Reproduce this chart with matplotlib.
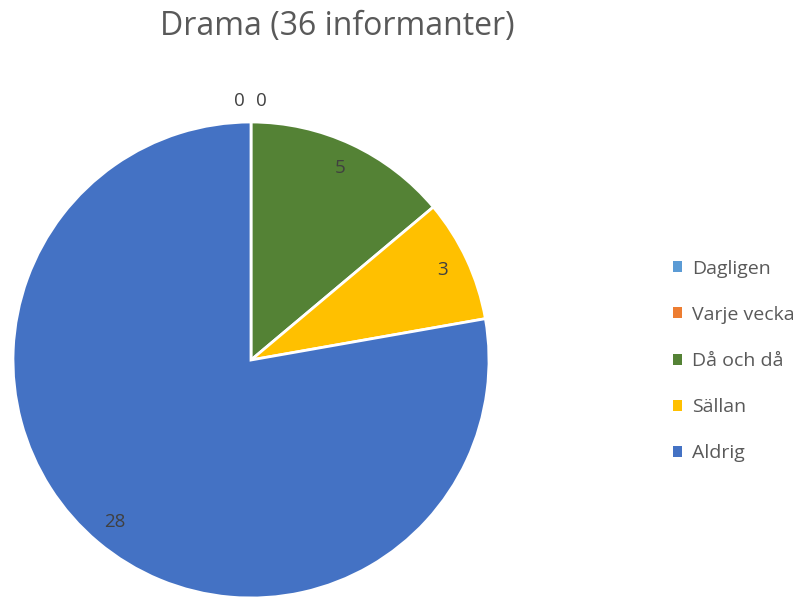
import numpy as np
import matplotlib.pyplot as plt
from matplotlib.patches import Patch

title = "Drama (36 informanter)"
categories = ["Dagligen", "Varje vecka", "Då och då", "Sällan", "Aldrig"]
values = [0, 0, 5, 3, 28]
colors = ["#5B9BD5", "#ED7D31", "#548235", "#FFC000", "#4472C4"]

plt.rcParams['font.family'] = ['Open Sans', 'DejaVu Sans']
text_col = "#595959"

fig = plt.figure(figsize=(8.06, 5.99), dpi=100)
ax = fig.add_axes([13 / 806, 1 / 599, 476 / 806, 476 / 599])
wedges, _ = ax.pie(values, colors=colors, startangle=90, counterclock=False,
                   wedgeprops=dict(edgecolor="white", linewidth=2))
ax.set_xlim(-1, 1)
ax.set_ylim(-1, 1)
ax.set_aspect("equal")

# data labels
zero_shift = [-0.048, 0.042]
zi = 0
for w, v in zip(wedges, values):
    mid = np.deg2rad((w.theta1 + w.theta2) / 2)
    if v == 0:
        x = 1.09 * np.cos(mid) + zero_shift[zi]
        y = 1.09 * np.sin(mid)
        zi += 1
    else:
        x = 0.89 * np.cos(mid)
        y = 0.89 * np.sin(mid)
    ax.text(x, y, str(v), ha="center", va="center", fontsize=13.5, color="#404040")

fig.text(337 / 806, 1 - 27 / 599, title, ha="center", va="center",
         fontsize=23, color=text_col)

handles = [Patch(facecolor=c, edgecolor="none") for c in colors]
fig.legend(handles, categories, loc="center left", bbox_to_anchor=(655 / 806, 1 - 361 / 599),
           frameon=False, fontsize=14, labelcolor=text_col, handlelength=0.5,
           handleheight=0.5, handletextpad=0.5, labelspacing=1.45)

fig.savefig("out.png", dpi=100)
